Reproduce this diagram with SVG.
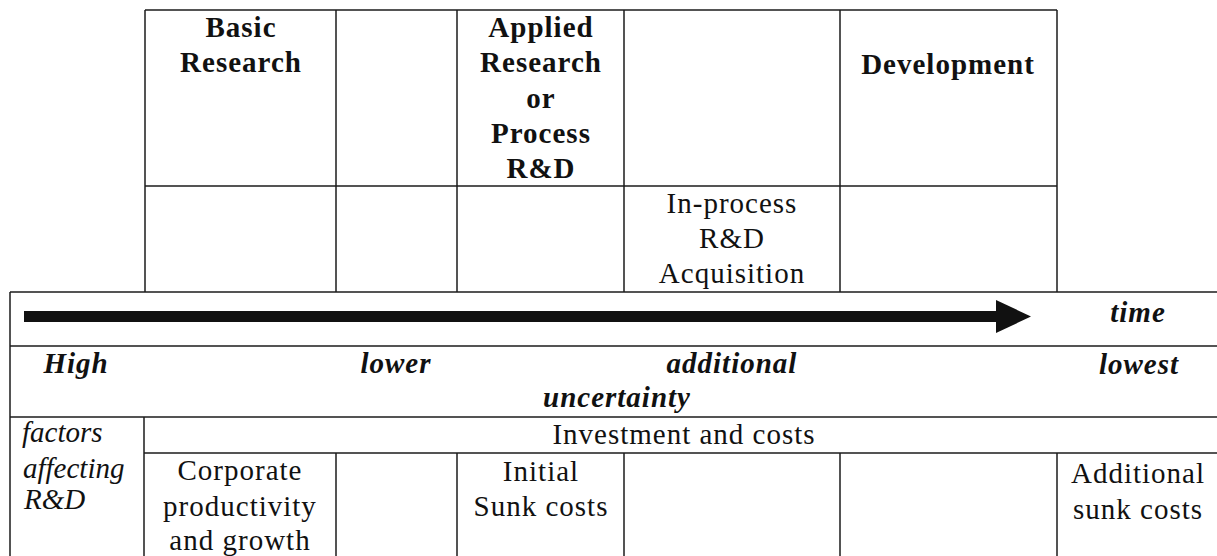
<svg xmlns="http://www.w3.org/2000/svg" width="1217" height="556" viewBox="0 0 1217 556">
  <style>
    .ln { stroke: #1c1c1c; stroke-width: 1.5; fill: none; }
    text { font-family: "Liberation Serif", "Times New Roman", serif; font-size: 29px; fill: #111; }
    .hd { font-weight: bold; letter-spacing: 1px; text-anchor: middle; }
    .bi { font-weight: bold; font-style: italic; letter-spacing: 1px; text-anchor: middle; }
    .rg { letter-spacing: 1px; text-anchor: middle; }
    .it { font-style: italic; }
  </style>
  <defs>
    <marker id="head" markerUnits="userSpaceOnUse" markerWidth="36" markerHeight="34" refX="0" refY="16.5" orient="auto">
      <path d="M0 0L35 16.5L0 33Z" fill="#111"/>
    </marker>
  </defs>
  <rect width="1217" height="556" fill="#fff"/>

  <!-- table rules -->
  <g id="grid" class="ln">
    <!-- stage table -->
    <path d="M145 10H1057M145 186H1057M145 10V292M336 10V292M457 10V292M624 10V292M840 10V292M1057 10V292"/>
    <!-- time band and rows below -->
    <path d="M10 292H1217M10 346H1217M10 417H1217M144 453H1217M10 292V556"/>
    <!-- factor columns -->
    <path d="M144 417V556M336 453V556M457 453V556M624 453V556M840 453V556M1057 453V556"/>
  </g>

  <!-- time arrow -->
  <g id="connectors">
    <line x1="24" y1="316.5" x2="996" y2="316.5" stroke="#111" stroke-width="11" marker-end="url(#head)"/>
  </g>

  <g id="basic-research">
    <text class="hd" x="241" y="37">Basic</text>
    <text class="hd" x="241" y="72">Research</text>
  </g>
  <g id="applied-research">
    <text class="hd" x="541" y="37">Applied</text>
    <text class="hd" x="541" y="72">Research</text>
    <text class="hd" x="541" y="108">or</text>
    <text class="hd" x="541" y="143">Process</text>
    <text class="hd" x="541" y="178">R&amp;D</text>
  </g>
  <g id="development">
    <text class="hd" x="948" y="74">Development</text>
  </g>
  <g id="in-process">
    <text class="rg" x="732" y="213">In-process</text>
    <text class="rg" x="732" y="248">R&amp;D</text>
    <text class="rg" x="732" y="283">Acquisition</text>
  </g>

  <g id="time">
    <text class="bi" x="1138" y="322">time</text>
  </g>

  <g id="uncertainty">
    <text class="bi" x="76" y="373">High</text>
    <text class="bi" x="396" y="373">lower</text>
    <text class="bi" x="732" y="373">additional</text>
    <text class="bi" x="617" y="407">uncertainty</text>
    <text class="bi" x="1139" y="374">lowest</text>
  </g>

  <g id="factors">
    <text class="it" x="22" y="442">factors</text>
    <text class="it" x="23" y="478">affecting</text>
    <text class="it" x="24" y="509">R&amp;D</text>
  </g>

  <g id="investment">
    <text class="rg" x="684" y="444">Investment and costs</text>
  </g>
  <g id="corporate">
    <text class="rg" x="240" y="480">Corporate</text>
    <text class="rg" x="240" y="516">productivity</text>
    <text class="rg" x="240" y="550">and growth</text>
  </g>
  <g id="initial-sunk">
    <text class="rg" x="541" y="481">Initial</text>
    <text class="rg" x="541" y="516">Sunk costs</text>
  </g>
  <g id="additional-sunk">
    <text class="rg" x="1138" y="483">Additional</text>
    <text class="rg" x="1138" y="519">sunk costs</text>
  </g>
</svg>
